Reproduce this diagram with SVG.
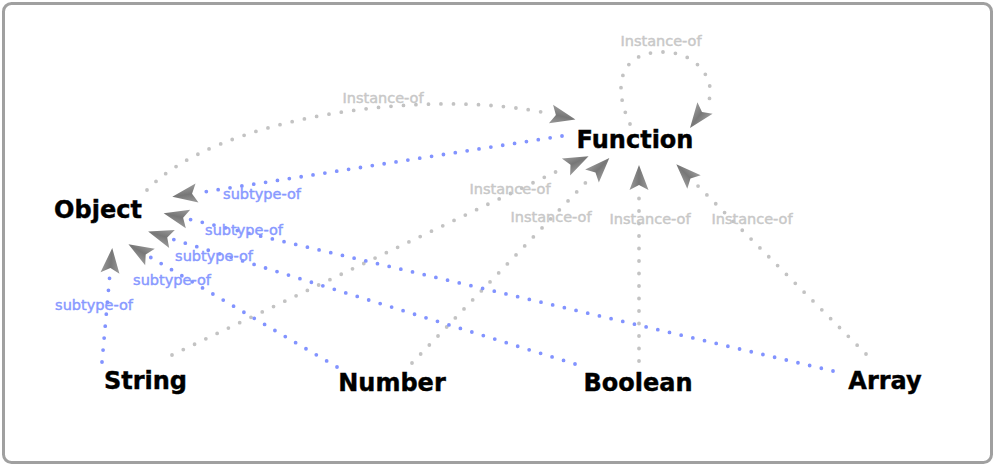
<svg xmlns="http://www.w3.org/2000/svg" width="995" height="466" viewBox="0 0 995 466">
<style>
.node{font-family:"DejaVu Sans","Liberation Sans",sans-serif;font-weight:bold;font-size:24px;fill:#000;stroke:#000;stroke-width:0.4;text-anchor:middle}
.lbl{font-family:"DejaVu Sans","Liberation Sans",sans-serif;font-size:14.5px;text-anchor:middle;stroke-width:0.45}
.inst{fill:none;stroke:#c3c3c3;stroke-width:3.8;stroke-linecap:round;stroke-dasharray:0 12.5;marker-end:url(#arr)}
.sub{fill:none;stroke:#8293ff;stroke-width:3.8;stroke-linecap:round;stroke-dasharray:0 12;marker-end:url(#arr)}
.li{fill:#c8c8c8;stroke:#c8c8c8}
.ls{fill:#8899ff;stroke:#8899ff}
</style>
<defs>
<linearGradient id="ag" x1="0" y1="0" x2="0" y2="1">
<stop offset="0" stop-color="#9a9a9a"/>
<stop offset="0.5" stop-color="#777"/>
<stop offset="1" stop-color="#9a9a9a"/>
</linearGradient>
<marker id="arr" markerUnits="userSpaceOnUse" markerWidth="30" markerHeight="24" viewBox="0 -12 30 24" refX="0" refY="0" orient="auto" overflow="visible">
<path d="M25,0 L0,-9.5 L5,0 L0,9.5 Z" fill="url(#ag)"/>
</marker>
</defs>
<rect x="3.5" y="3.5" width="988" height="459" rx="8" ry="8" fill="#fff" stroke="#a0a0a0" stroke-width="3"/>
<g id="connectors">
<g id="e-object-function-inst">
<path class="inst" d="M147,190 C215,118 425,86 551,114"/>
<text class="lbl li" x="383" y="103">Instance-of</text>
</g>
<g id="e-function-function-inst">
<path class="inst" d="M630,124 C612,85 620,52 663,52 C702,52 720,88 705,108"/>
<text class="lbl li" x="661" y="46">Instance-of</text>
</g>
<g id="e-string-function-inst">
<path class="inst" d="M172,355 L566,167"/>
<text class="lbl li" x="510" y="194">Instance-of</text>
</g>
<g id="e-number-function-inst">
<path class="inst" d="M412,363 L592,176"/>
<text class="lbl li" x="551" y="222">Instance-of</text>
</g>
<g id="e-boolean-function-inst">
<path class="inst" d="M639,361 L639,190"/>
<text class="lbl li" x="650" y="224">Instance-of</text>
</g>
<g id="e-array-function-inst">
<path class="inst" d="M866,354 L694,182"/>
<text class="lbl li" x="752" y="224">Instance-of</text>
</g>
<g id="e-function-object-sub">
<path class="sub" d="M562,136 L197,193"/>
<text class="lbl ls" x="262" y="199">subtype-of</text>
</g>
<g id="e-array-object-sub">
<path class="sub" d="M833,371 L188,219"/>
<text class="lbl ls" x="244" y="235">subtype-of</text>
</g>
<g id="e-boolean-object-sub">
<path class="sub" d="M575,364 L172,239"/>
<text class="lbl ls" x="214" y="261">subtype-of</text>
</g>
<g id="e-number-object-sub">
<path class="sub" d="M337,367 L150,257"/>
<text class="lbl ls" x="172" y="285">subtype-of</text>
</g>
<g id="e-string-object-sub">
<path class="sub" d="M102,362 L110,273"/>
<text class="lbl ls" x="94" y="310">subtype-of</text>
</g>
</g>
<g id="node-object"><text class="node" x="98" y="218">Object</text></g>
<g id="node-function"><text class="node" x="635" y="148">Function</text></g>
<g id="node-string"><text class="node" x="145.5" y="389">String</text></g>
<g id="node-number"><text class="node" x="392" y="391">Number</text></g>
<g id="node-boolean"><text class="node" x="638" y="391">Boolean</text></g>
<g id="node-array"><text class="node" x="885" y="389">Array</text></g>
</svg>
